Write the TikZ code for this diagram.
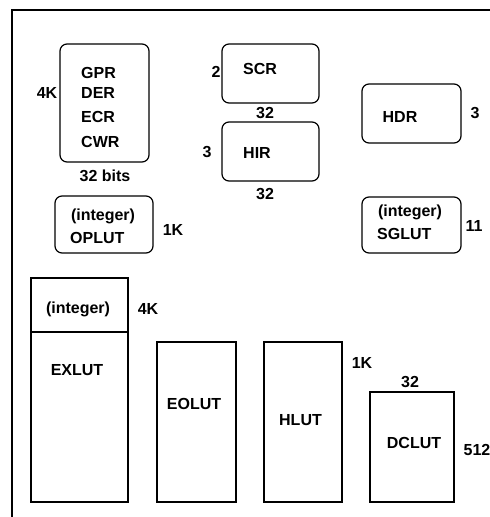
\documentclass[tikz,border=0pt]{standalone}
\usepackage{fontspec}
\setmainfont{Liberation Sans}
\begin{document}
\begin{tikzpicture}[
  x=1pt, y=-1pt,
  rbox/.style={
    draw=black, line width=1.2pt, rounded corners=7pt,
    inner sep=0pt
  },
  sbox/.style={
    draw=black, line width=1.2pt,
    inner sep=0pt
  },
  lbl/.style={
    font=\fontsize{16}{18}\selectfont\bfseries, inner sep=0pt
  }
]
\useasboundingbox (0,0) rectangle (490,517);

% ================= FRAME =================
\draw[line width=1.1pt] (12,517) -- (12,10) -- (490,10);

% ================= REGISTERS =================
\node[rbox, minimum width=89, minimum height=118] (gprbox) at (104.5,103) {};
\node[lbl, anchor=west] (gpr) at (81,73) {GPR};
\node[lbl, anchor=west] (der) at (81,93) {DER};
\node[lbl, anchor=west] (ecr) at (81,117) {ECR};
\node[lbl, anchor=west] (cwr) at (81,142) {CWR};
\node[lbl] (gprk) at (47,93) {4K};
\node[lbl] (gprw) at (105,176) {32 bits};

\node[rbox, minimum width=97, minimum height=59] (scrbox) at (270.5,73.5) {};
\node[lbl] (scr) at (260,69) {SCR};
\node[lbl] (scrh) at (216,72) {2};
\node[lbl] (scrw) at (265,113) {32};

\node[rbox, minimum width=97, minimum height=59] (hirbox) at (270.5,151.5) {};
\node[lbl] (hir) at (257,153) {HIR};
\node[lbl] (hirh) at (207,152) {3};
\node[lbl] (hirw) at (265,194) {32};

\node[rbox, minimum width=99, minimum height=59] (hdrbox) at (411.5,113.5) {};
\node[lbl] (hdr) at (400,117) {HDR};
\node[lbl] (hdrh) at (475,113) {3};

% ================= SMALL LUTS =================
\node[rbox, minimum width=98, minimum height=57] (oplbox) at (104,224.5) {};
\node[lbl] (oplint) at (103,216) {(integer)};
\node[lbl, anchor=west] (opl) at (70,238) {OPLUT};
\node[lbl] (oplk) at (173,230) {1K};

\node[rbox, minimum width=99, minimum height=56] (sglbox) at (411.5,225) {};
\node[lbl] (sglint) at (410,212) {(integer)};
\node[lbl, anchor=west] (sgl) at (377,234) {SGLUT};
\node[lbl] (sglk) at (474,226) {11};

% ================= BIG LUTS =================
\node[sbox, minimum width=97, minimum height=54] (exint) at (79.5,305) {};
\node[sbox, minimum width=97, minimum height=170] (exbox) at (79.5,417) {};
\node[lbl] (exintl) at (78,309) {(integer)};
\node[lbl] (exl) at (77,370) {EXLUT};
\node[lbl] (exk) at (148,309) {4K};

\node[sbox, minimum width=79, minimum height=160] (eobox) at (196.5,422) {};
\node[lbl] (eol) at (194,404) {EOLUT};

\node[sbox, minimum width=78, minimum height=160] (hlbox) at (303,422) {};
\node[lbl] (hl) at (300.5,420) {HLUT};
\node[lbl] (hlk) at (362,363) {1K};

\node[sbox, minimum width=84, minimum height=110] (dcbox) at (412,447) {};
\node[lbl] (dcl) at (414,443) {DCLUT};
\node[lbl] (dcw) at (410,382) {32};
\node[lbl] (dch) at (477,450) {512};

\end{tikzpicture}
\end{document}
